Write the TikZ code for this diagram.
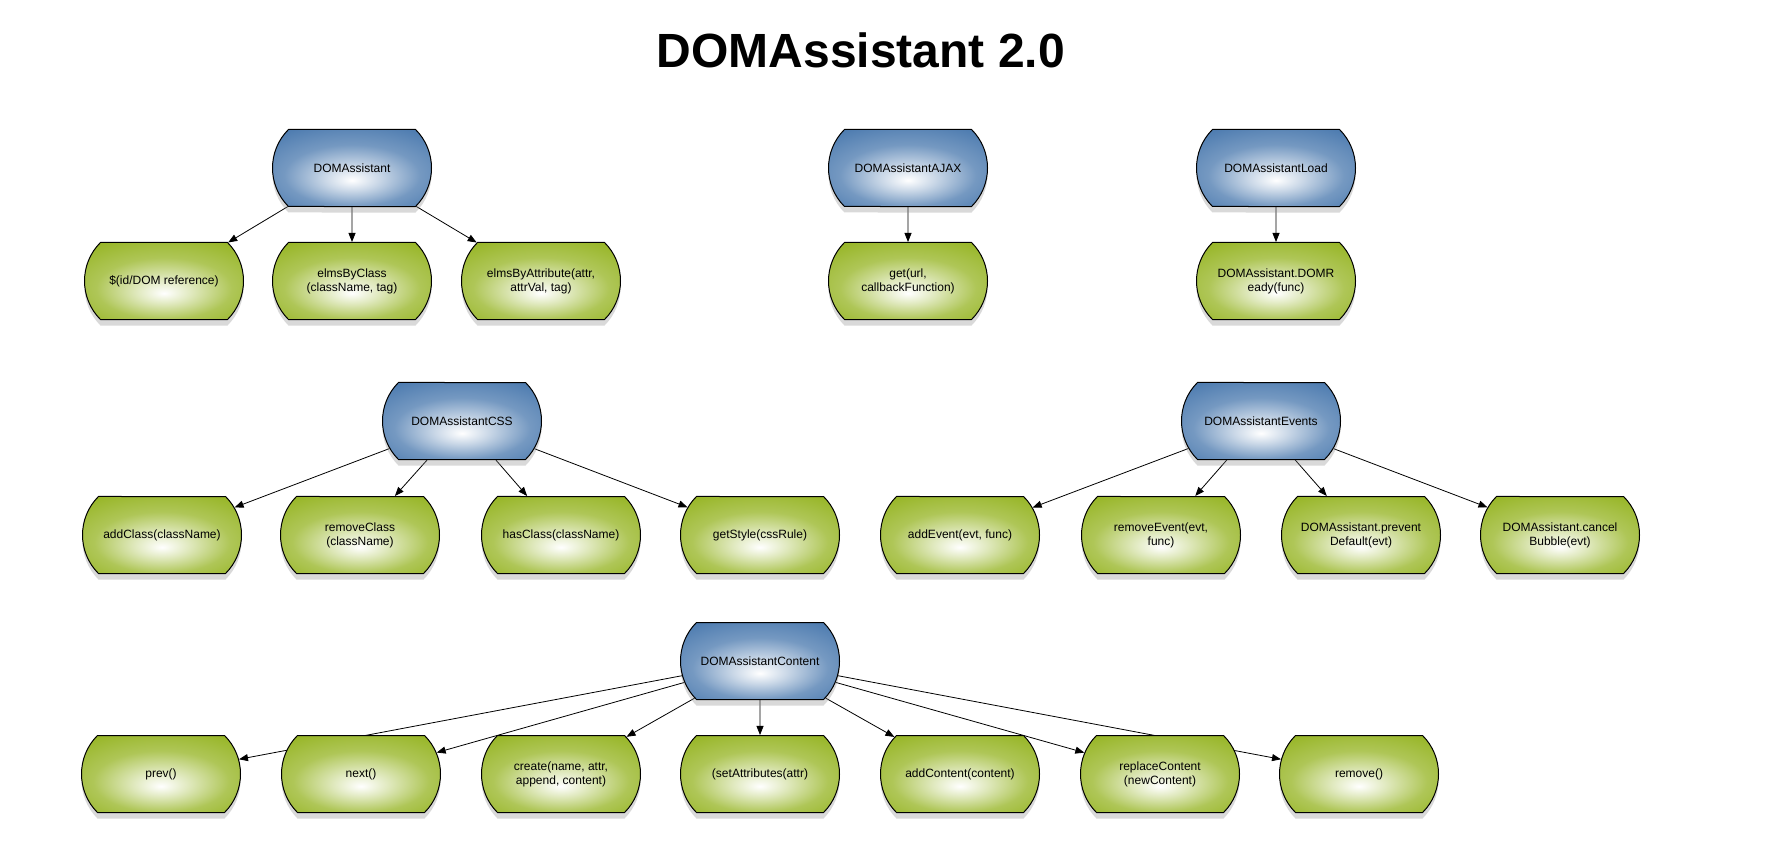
\documentclass[tikz,border=0pt]{standalone}
\usepackage{fontspec}
\setmainfont{Liberation Sans}
\usetikzlibrary{shapes.misc}
\usetikzlibrary{shadows}
\usetikzlibrary{arrows.meta}
\usetikzlibrary{backgrounds}
\definecolor{modblue}{RGB}{78,124,176}
\definecolor{methgreen}{RGB}{152,182,40}
\pgfdeclareradialshading{modshade}{\pgfpoint{0bp}{-8bp}}{color(0bp)=(white); color(8bp)=(modblue!30!white); color(20bp)=(modblue!78!white); color(33bp)=(modblue); color(50bp)=(modblue)}
\pgfdeclareradialshading{methshade}{\pgfpoint{0bp}{-8bp}}{color(0bp)=(white); color(8bp)=(methgreen!30!white); color(20bp)=(methgreen!78!white); color(33bp)=(methgreen); color(50bp)=(methgreen)}
\begin{document}
\begin{tikzpicture}[x=1pt,y=-1pt,line cap=round,line join=round,>={Triangle[length=9pt,width=7pt]},
  box/.style={rounded rectangle,rounded rectangle arc length=90,draw=black,line width=1pt,
    minimum width=163pt,minimum height=77pt,inner sep=2pt,align=center,
    font=\fontsize{12}{14}\selectfont,
    drop shadow={shadow xshift=0pt,shadow yshift=-6pt,opacity=0.3}},
  module/.style={box,shade,shading=modshade},
  method/.style={box,shade,shading=methshade},
  link/.style={->,line width=0.8pt}]
\useasboundingbox (0,0) rectangle (1785,842);
\node[font=\bfseries\fontsize{48}{48}\selectfont,anchor=base] (title) at (861,68) {DOMAssistant 2.0};
% core
\node[module] (dom) at (352,168) {DOMAssistant};
\node[method] (idref) at (164,281) {\$(id/DOM reference)};
\node[method] (byclass) at (352,281) {elmsByClass\\(className, tag)};
\node[method] (byattr) at (541,281) {elmsByAttribute(attr,\\attrVal, tag)};
% ajax
\node[module] (ajax) at (908,168) {DOMAssistantAJAX};
\node[method] (get) at (908,281) {get(url,\\callbackFunction)};
% load
\node[module] (load) at (1276,168) {DOMAssistantLoad};
\node[method] (ready) at (1276,281) {DOMAssistant.DOMR\\eady(func)};
% css
\node[module] (css) at (462,421) {DOMAssistantCSS};
\node[method] (addclass) at (162,535) {addClass(className)};
\node[method] (removeclass) at (360,535) {removeClass\\(className)};
\node[method] (hasclass) at (561,535) {hasClass(className)};
\node[method] (getstyle) at (760,535) {getStyle(cssRule)};
% events
\node[module] (events) at (1261,421) {DOMAssistantEvents};
\node[method] (addevent) at (960,535) {addEvent(evt, func)};
\node[method] (removeevent) at (1161,535) {removeEvent(evt,\\func)};
\node[method] (prevent) at (1361,535) {DOMAssistant.prevent\\Default(evt)};
\node[method] (cancel) at (1560,535) {DOMAssistant.cancel\\Bubble(evt)};
% content
\node[module] (content) at (760,661) {DOMAssistantContent};
\node[method] (prev) at (161,774) {prev()};
\node[method] (next) at (361,774) {next()};
\node[method] (create) at (561,774) {create(name, attr,\\append, content)};
\node[method] (setattr) at (760,774) {(setAttributes(attr)};
\node[method] (addcontent) at (960,774) {addContent(content)};
\node[method] (replace) at (1160,774) {replaceContent\\(newContent)};
\node[method] (remove) at (1359,774) {remove()};
\begin{scope}[on background layer]
\draw[link] (dom) -- (idref);
\draw[link] (dom) -- (byclass);
\draw[link] (dom) -- (byattr);
\draw[link] (ajax) -- (get);
\draw[link] (load) -- (ready);
\draw[link] (css) -- (addclass);
\draw[link] (css) -- (removeclass);
\draw[link] (css) -- (hasclass);
\draw[link] (css) -- (getstyle);
\draw[link] (events) -- (addevent);
\draw[link] (events) -- (removeevent);
\draw[link] (events) -- (prevent);
\draw[link] (events) -- (cancel);
\draw[link] (content) -- (prev);
\draw[link] (content) -- (next);
\draw[link] (content) -- (create);
\draw[link] (content) -- (setattr);
\draw[link] (content) -- (addcontent);
\draw[link] (content) -- (replace);
\draw[link] (content) -- (remove);
\end{scope}
\end{tikzpicture}
\end{document}
